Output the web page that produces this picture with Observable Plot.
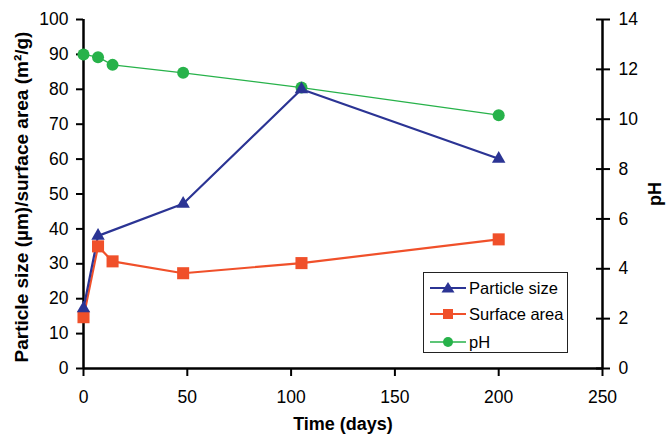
<!DOCTYPE html>
<html><head><meta charset="utf-8">
<script src="https://cdn.jsdelivr.net/npm/d3@7"></script>
<script src="https://cdn.jsdelivr.net/npm/@observablehq/plot@0.6"></script>
<style>
body{margin:0;background:#fff}
#wrap{position:relative;width:669px;height:440px;font-family:"Liberation Sans",Arial,sans-serif}
#legend{position:absolute;left:423px;top:272px;width:143px;height:79px;border:1px solid #222;background:#fff}
#legend .row{position:absolute;left:6px;height:20px;display:flex;align-items:center;font-size:16.5px;color:#000}
#legend svg{margin-right:3px}
</style>
</head><body><div id="wrap"></div>
<script>
// Data
const particleDays = [0, 7, 48, 105, 200];
const particleSize = [17.2, 38, 47.2, 80, 60.1];
const surfaceDays = [0, 7, 14, 48, 105, 200];
const surfaceArea = [14.7, 35, 30.7, 27.3, 30.2, 37];
const pHDays = [0, 7, 14, 48, 105, 200];
const pHValues = [12.6, 12.49, 12.18, 11.86, 11.27, 10.16];
const xTicks = [0, 50, 100, 150, 200, 250];
const yTicks = [0, 10, 20, 30, 40, 50, 60, 70, 80, 90, 100];
const pHTicks = [0, 2, 4, 6, 8, 10, 12, 14];
const seriesNames = ["Particle size", "Surface area", "pH"];
const colors = {ps: "#2B3494", sa: "#F0502A", ph: "#27B24A"};

const pHMax = 14, yMax = 100;
const toY = v => v * yMax / pHMax;

const ps = particleDays.map((d, i) => ({day: d, v: particleSize[i]}));
const sa = surfaceDays.map((d, i) => ({day: d, v: surfaceArea[i]}));
const ph = pHDays.map((d, i) => ({day: d, v: toY(pHValues[i])}));

const font = "Liberation Sans, Arial, sans-serif";
const chart = Plot.plot({
  width: 669, height: 440,
  marginLeft: 83, marginRight: 67, marginTop: 19, marginBottom: 72,
  style: {fontFamily: font, fontSize: "17.5px", color: "#000", background: "#fff"},
  x: {domain: [0, 250]},
  y: {domain: [0, yMax]},
  marks: [
    Plot.axisX(xTicks, {tickSize: 8, tickPadding: 14, strokeWidth: 2, label: null}),
    Plot.axisY(yTicks, {tickSize: 7, tickPadding: 8, strokeWidth: 2, label: null}),
    Plot.axisY(pHTicks.map(toY), {anchor: "right", tickSize: 7, tickPadding: 9, strokeWidth: 2, label: null,
      tickFormat: d => String(Math.round(d * pHMax / yMax))}),
    Plot.axisY(pHTicks.map(toY), {anchor: "right", tickSize: 7, dx: -7, strokeWidth: 2, label: null, tickFormat: () => ""}),
    Plot.ruleX([0], {stroke: "#000", strokeWidth: 2.5}),
    Plot.ruleX([250], {stroke: "#000", strokeWidth: 2.5}),
    Plot.ruleY([0], {stroke: "#000", strokeWidth: 2.5}),
    Plot.line(ph, {x: "day", y: "v", stroke: colors.ph, strokeWidth: 1.3}),
    Plot.line(sa, {x: "day", y: "v", stroke: colors.sa, strokeWidth: 2.2}),
    Plot.line(ps, {x: "day", y: "v", stroke: colors.ps, strokeWidth: 2.2}),
    Plot.dot(ph, {x: "day", y: "v", fill: colors.ph, r: 6}),
    Plot.dot(sa, {x: "day", y: "v", fill: colors.sa, symbol: "square", r: 6.8}),
    Plot.dot(ps, {x: "day", y: "v", fill: colors.ps, symbol: "triangle", r: 5}),
    Plot.text(["Particle size (µm)/surface area (m²/g)"], {frameAnchor: "left", textAnchor: "middle", rotate: -90, dx: -62, dy: 3, fontWeight: "bold", fontSize: 19, fill: "#000"}),
    Plot.text(["pH"], {frameAnchor: "right", textAnchor: "middle", rotate: -90, dx: 53, fontWeight: "bold", fontSize: 18, fill: "#000"}),
    Plot.text(["Time (days)"], {frameAnchor: "bottom", dy: 61, fontWeight: "bold", fontSize: 18, fill: "#000"})
  ]
});
const wrap = document.getElementById("wrap");
wrap.appendChild(chart);

// legend overlay
const legend = document.createElement("div");
legend.id = "legend";
const sym = [
  c => `<polygon points="18,3 24.5,13.5 11.5,13.5" fill="${c}"/>`,
  c => `<rect x="13" y="4" width="10" height="10" fill="${c}"/>`,
  c => `<circle cx="18" cy="9" r="5" fill="${c}"/>`
];
const cols = [colors.ps, colors.sa, colors.ph];
const widths = [2.2, 2.2, 1.3];
const tops = [5, 31, 59];
seriesNames.forEach((name, i) => {
  const row = document.createElement("div");
  row.className = "row";
  row.style.top = tops[i] + "px";
  row.innerHTML = `<svg width="36" height="18"><line x1="0" y1="9" x2="36" y2="9" stroke="${cols[i]}" stroke-width="${widths[i]}"/>${sym[i](cols[i])}</svg><span>${name}</span>`;
  legend.appendChild(row);
});
wrap.appendChild(legend);
</script>
</body></html>
